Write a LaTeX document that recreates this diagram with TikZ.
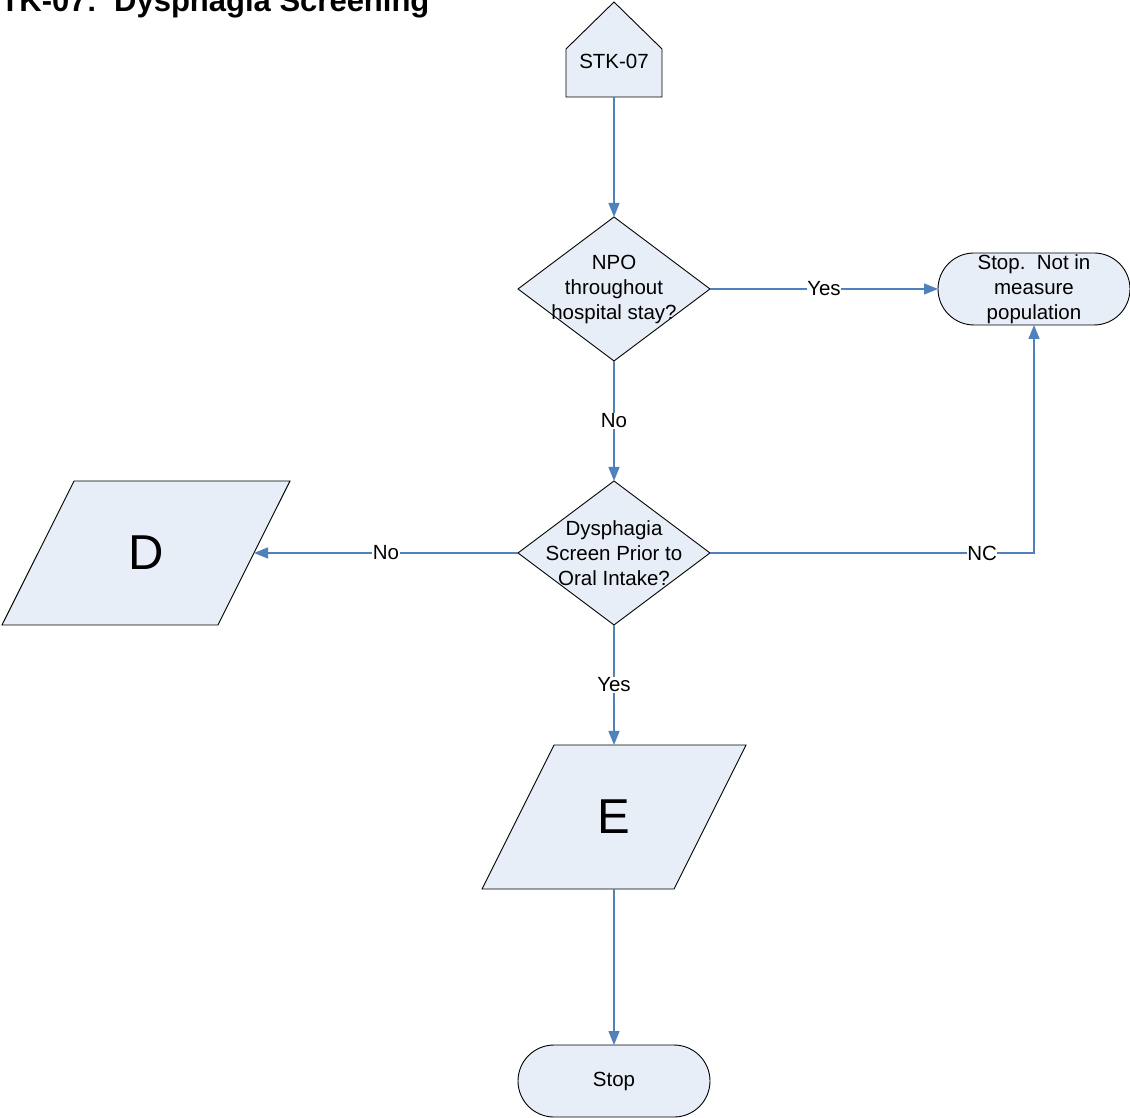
\documentclass[tikz,border=0pt]{standalone}
\usepackage{fontspec}
\setmainfont{Liberation Sans}
\usetikzlibrary{shapes.geometric,shapes.misc,arrows.meta,positioning,calc}
\definecolor{boxfill}{RGB}{232,238,247}
\definecolor{flowblue}{RGB}{79,129,189}

\begin{document}
\begin{tikzpicture}[x=1pt, y=1pt, node distance=120pt, >={Triangle[length=14pt,width=11pt]}]
    \tikzstyle{txt} = [font=\fontsize{20.5}{25}\selectfont]
    \tikzstyle{decision} = [diamond, draw, fill=boxfill, line width=0.9pt, minimum width=192pt, minimum height=144pt, inner sep=0pt, outer sep=0pt]
    \tikzstyle{terminal} = [rounded rectangle, draw, fill=boxfill, line width=0.9pt, txt, align=center, minimum width=192pt, minimum height=72pt, inner sep=0pt, outer sep=0pt]
    \tikzstyle{datapar} = [trapezium, trapezium left angle=63.43, trapezium right angle=116.57, trapezium stretches body, draw, fill=boxfill, line width=0.9pt, text height=144pt, text depth=0pt, minimum height=144pt, inner sep=0pt, outer sep=0pt]
    \tikzstyle{flow} = [->, draw=flowblue, line width=1.3pt]
    \tikzstyle{lbl} = [txt, fill=white, inner sep=0.5pt, text=black]

    \useasboundingbox (0,0) rectangle (1130,1118);

    % title, runs off the left edge
    \node [anchor=base east, font=\fontsize{31}{36}\selectfont\bfseries] (title) at (433,1106) {STK-07:\ \ Dysphagia Screening};

    % off-page connector
    \node [minimum width=96pt, minimum height=48pt, inner sep=0pt, outer sep=0pt] (start) at (614,1045) {};
    \filldraw [fill=boxfill, line width=0.9pt] (start.south west) -- (start.north west) -- ($(start.north)+(0,47)$) -- (start.north east) -- (start.south east) -- cycle;
    \node [txt] (startlbl) at ($(start)+(0,12)$) {STK-07};

    \node [decision, below=of start, label={[txt, align=center]center:NPO\\throughout\\hospital stay?}] (npo) {};
    \node [terminal, right=228pt of npo] (notpop) {Stop.\ \ Not in\\measure\\population};
    \node [decision, below=of npo, label={[txt, align=center]center:Dysphagia\\Screen Prior to\\Oral Intake?}] (screen) {};
    \node [datapar, minimum width=288pt, left=264pt of screen, label={[font=\fontsize{49}{55}\selectfont]center:D}] (dpar) {};
    \node [datapar, minimum width=264pt, below=of screen, label={[font=\fontsize{49}{55}\selectfont]center:E}] (epar) {};
    \node [terminal, below=156pt of epar] (stop) {Stop};

    \path[flow] (start.south) -- (npo.north);
    \path[flow] (npo.east) -- node[lbl] {Yes} (notpop.west);
    \path[flow] (npo.south) -- node[lbl] {No} (screen.north);
    \path[flow] (screen.west) -- node[lbl] {No} (dpar.east);
    \path[flow] (screen.east) -| node[lbl, pos=0.42] {NC} (notpop.south);
    \path[flow] (screen.south) -- node[lbl] {Yes} (epar.north);
    \path[flow] (epar.south) -- (stop.north);
\end{tikzpicture}
\end{document}
